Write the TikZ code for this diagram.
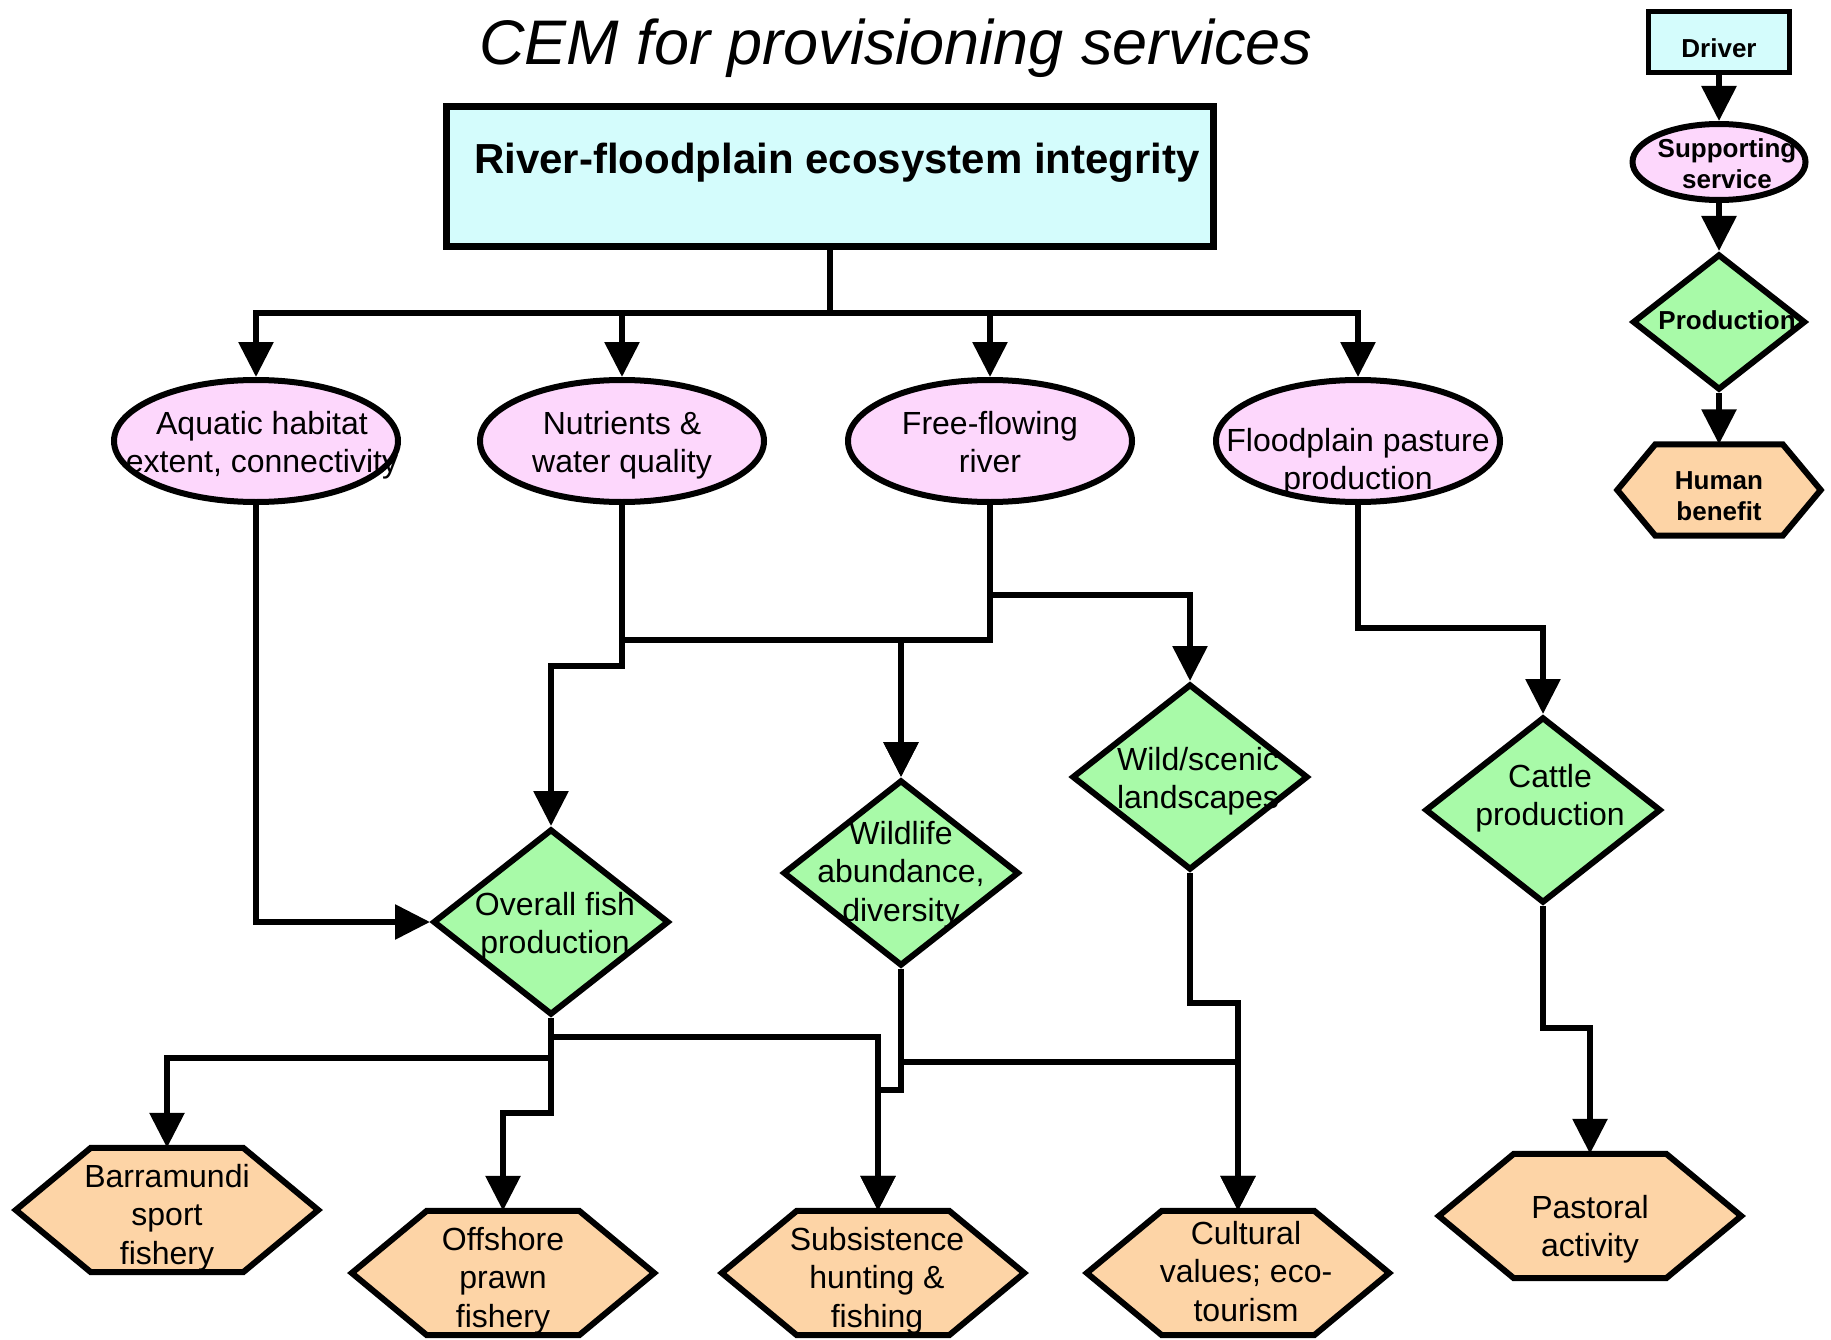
\documentclass[tikz,border=0pt]{standalone}
\usepackage{fontspec}
\setmainfont{Liberation Sans}
\usetikzlibrary{shapes.geometric,arrows.meta,backgrounds}

\definecolor{drivercol}{RGB}{212,252,252}
\definecolor{servicecol}{RGB}{253,215,252}
\definecolor{prodcol}{RGB}{168,250,168}
\definecolor{benefitcol}{RGB}{253,212,166}

% Centred stack of lines in a zero-size box, shifted by [dx][dy]
\NewDocumentCommand\lines{O{0pt}O{0pt}m}{%
  \setbox0=\hbox{\begin{tabular}{@{}c@{}}#3\end{tabular}}%
  \dimen0=\dimexpr#2+(\dp0-\ht0)/2\relax
  \setbox0=\hbox{\raise\dimen0\box0}%
  \ht0=0pt\dp0=0pt%
  \hbox to 0pt{\hss\kern#1\box0\kern-#1\hss}}

\begin{document}
\begin{tikzpicture}[x=1pt,y=-1pt,
  wire/.style={line width=6pt, line join=miter},
  flow/.style={wire, -{Triangle[length=35pt,width=34pt]}},
  ecobox/.style={draw, line width=7pt, fill=drivercol, minimum width=767pt,
    minimum height=140pt, inner sep=0pt, font=\fontsize{42}{50}\selectfont\bfseries},
  service/.style={ellipse, draw, line width=6pt, fill=servicecol, minimum width=284pt,
    minimum height=122pt, inner sep=0pt, font=\fontsize{32}{38.5}\selectfont},
  product/.style={diamond, draw, line width=6pt, fill=prodcol, minimum width=236pt,
    minimum height=186pt, inner sep=0pt, font=\fontsize{32}{38.5}\selectfont},
  benefit/.style={minimum width=302pt, minimum height=124pt, inner sep=0pt,
    font=\fontsize{32}{38.5}\selectfont},
  hexline/.style={draw, line width=6pt, fill=benefitcol, line join=miter},
  keyfont/.style={font=\fontsize{26}{31}\selectfont\bfseries},
]
\useasboundingbox (0,0) rectangle (1831,1340);

% title
\node[anchor=base, font=\fontsize{63}{75}\selectfont\itshape] (title) at (896,65)
  {CEM for provisioning services};

% driver
\node[ecobox] (eco) at (830,176.5) {\lines[7pt][12.5pt]{River-floodplain ecosystem integrity}};

% supporting services
\node[service] (aquatic)   at (256,441)  {\lines[6pt][-5pt]{Aquatic habitat\\extent, connectivity}};
\node[service] (nutrients) at (622,441)  {\lines[0pt][-5pt]{Nutrients \&\\water quality}};
\node[service] (freeflow)  at (990,441)  {\lines[0pt][-5pt]{Free-flowing\\river}};
\node[service] (pasture)   at (1358,441) {\lines[0pt][-22pt]{Floodplain pasture\\production}};

% production
\node[product] (fish)     at (551,922)  {\lines[4pt][-5pt]{Overall fish\\production}};
\node[product] (wildlife) at (901,873)  {\lines[0pt][-2pt]{Wildlife\\abundance,\\diversity}};
\node[product] (scenic)   at (1190,777) {\lines[8pt][-5pt]{Wild/scenic\\landscapes}};
\node[product] (cattle)   at (1543,810) {\lines[7pt][11pt]{Cattle\\production}};

% human benefits
\node[benefit] (barra)    at (167,1210)  {\lines[0pt][-8pt]{Barramundi\\sport\\fishery}};
\node[benefit] (prawn)    at (503,1273)  {\lines[0pt][-8pt]{Offshore\\prawn\\fishery}};
\node[benefit] (subs)     at (873,1273)  {\lines[4pt][-8pt]{Subsistence\\hunting \&\\fishing}};
\node[benefit] (cultural) at (1238,1273) {\lines[8pt][-2pt]{Cultural\\values; eco-\\tourism}};
\node[benefit] (pastoral) at (1590,1216) {\lines[0pt][-14pt]{Pastoral\\activity}};

% key
\node[draw, line width=5pt, fill=drivercol, minimum width=141pt, minimum height=61pt,
  inner sep=0pt, keyfont] (keydriver) at (1719,42) {\lines[0pt][-9pt]{Driver}};
\node[ellipse, draw, line width=6pt, fill=servicecol, minimum width=173pt, minimum height=76pt,
  inner sep=0pt, keyfont] (keyservice) at (1719,162) {\lines[8pt][-5pt]{Supporting\\service}};
\node[diamond, draw, line width=6pt, fill=prodcol, minimum width=173pt, minimum height=136pt,
  inner sep=0pt, keyfont] (keyprod) at (1719,322) {\lines[8pt][-1pt]{Production}};
\node[minimum width=203pt, minimum height=91pt, inner sep=0pt, keyfont] (keybenefit)
  at (1719,490) {\lines[0pt][-9pt]{Human\\benefit}};

% junction points of the elbow connectors
\coordinate (bus)   at (830,313);
\coordinate (midbus) at (901,640);
\coordinate (fishjog) at (550,666);
\coordinate (scbus) at (1190,595);
\coordinate (cabus) at (1543,628);
\coordinate (pajog) at (1590,1028);
\coordinate (bjog)  at (167,1058);
\coordinate (prjog) at (503,1113);
\coordinate (sjog)  at (878,1037);
\coordinate (wsjog) at (878,1090);
\coordinate (wcjog) at (1238,1062);
\coordinate (scjog) at (1238,1003);

% driver to supporting services
\foreach \s in {aquatic,nutrients,freeflow,pasture}
  \draw[flow] (eco.south) -- (bus) -| (\s.north);

% supporting services to production
\draw[flow] (aquatic.south) |- (fish.west);
\draw[flow] (nutrients.south) -- (nutrients.south |- fishjog) -| (fish.north);
\draw[flow] (nutrients.south) |- (midbus) -- (wildlife.north);
\draw[flow] (freeflow.south) |- (midbus) -- (wildlife.north);
\draw[flow] (freeflow.south) |- (scbus) -- (scenic.north);
\draw[flow] (pasture.south) |- (cabus) -- (cattle.north);

% production to human benefits
\draw[flow] (fish.south) |- (bjog) -- (barra.north);
\draw[flow] (fish.south) |- (prjog) -- (prawn.north);
\draw[flow] (fish.south) |- (sjog) -- (subs.north -| sjog);
\draw[flow] (wildlife.south) |- (wsjog) -- (subs.north -| sjog);
\draw[flow] (wildlife.south) |- (wcjog) -- (cultural.north);
\draw[flow] (scenic.south) |- (scjog) -- (cultural.north);
\draw[flow] (cattle.south) |- (pajog) -- (pastoral.north);

% key arrows
\draw[flow] (keydriver) -- (keyservice);
\draw[flow] (keyservice) -- (keyprod);
\draw[flow] (keyprod) -- (keybenefit);

% hexagonal outlines of the benefit nodes
\begin{scope}[on background layer]
\foreach \hx/\hi in {barra/75,prawn/75,subs/75,cultural/75,pastoral/75,keybenefit/38}
  \draw[hexline] (\hx.west) -- ([xshift=\hi pt]\hx.north west) -- ([xshift=-\hi pt]\hx.north east)
    -- (\hx.east) -- ([xshift=-\hi pt]\hx.south east) -- ([xshift=\hi pt]\hx.south west) -- cycle;
\end{scope}
\end{tikzpicture}
\end{document}
